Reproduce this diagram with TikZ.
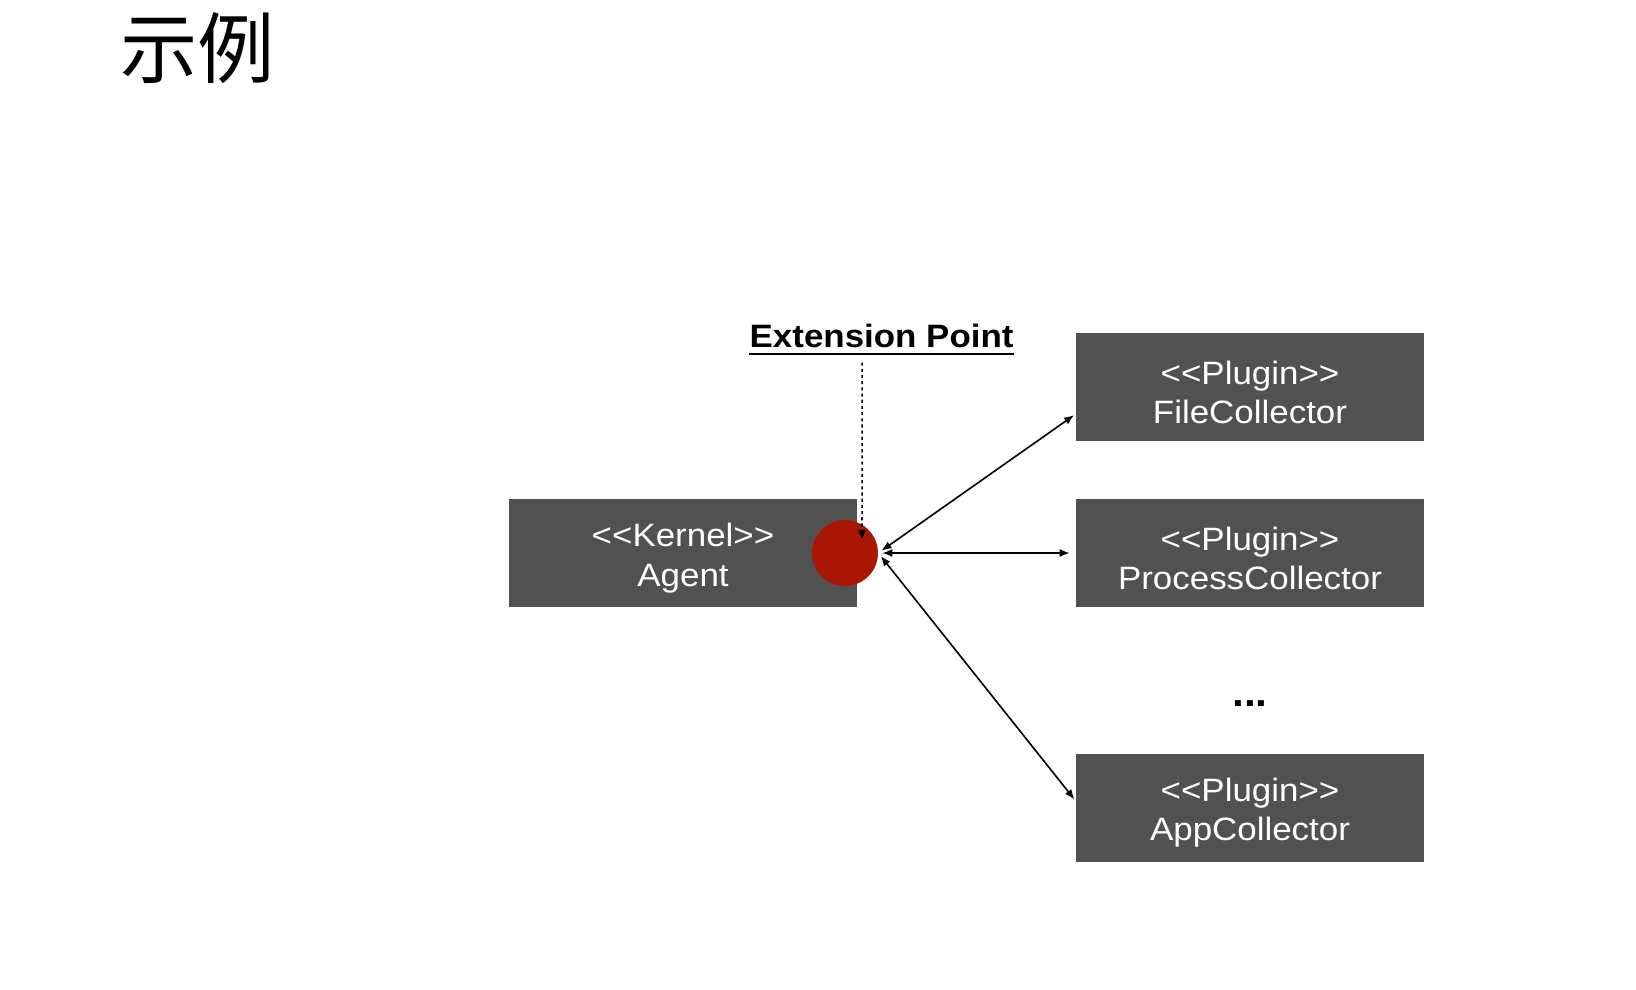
\documentclass[tikz,border=0pt]{standalone}
\usepackage{fontspec}
\newfontfamily\labelfont{Liberation Sans}[FakeStretch=1.08]
\newfontfamily\cjkfont{Noto Sans CJK SC}
\usepackage{xcolor}
\usetikzlibrary{positioning}
\usetikzlibrary{arrows.meta}

\begin{document}
\begin{tikzpicture}[
	box/.style={rectangle, fill=BOXGRAY, text=white, minimum width=8.7cm, minimum height=2.7cm, inner sep=0pt, align=center, font=\labelfont\fontsize{23}{28}\selectfont},
	link/.style={{Latex[length=2.5mm,width=2mm]}-{Latex[length=2.5mm,width=2mm]}, line width=1.15pt, shorten <=0.1cm},
	pointer/.style={-{Latex[length=2.5mm,width=2mm]}, line width=1.1pt, dash pattern=on 2.2pt off 2.2pt}
]
			\useasboundingbox (0,0) rectangle (40.9,-24.75);
			\definecolor{BOXGRAY}{RGB}{81, 81, 81}
			\definecolor{EXTRED}{RGB}{169, 22, 4}
			\node[anchor=base west, inner sep=0pt, font=\cjkfont\fontsize{55}{60}\selectfont] (title) at ( 3.0000000, -1.9500000) {示例};
			\node[anchor=base, inner sep=0pt, font=\labelfont\bfseries\fontsize{23}{28}\selectfont] (extlabel) at (22.0400000, -8.7000000) {Extension Point};
			\node[box] (agent) at (17.0750000, -13.8250000) {\rule{0pt}{24pt}<<Kernel>>\\Agent};
			\node[box] (file) at (31.2500000, -9.6875000) {\rule{0pt}{24pt}<<Plugin>>\\FileCollector};
			\node[box] (process) at (31.2500000, -13.8250000) {\rule{0pt}{24pt}<<Plugin>>\\ProcessCollector};
			\node[anchor=base, inner sep=0pt, font=\labelfont\bfseries\fontsize{28}{30}\selectfont] (dots) at (31.2500000, -17.6500000) {...};
			\node[box] (app) at (31.2500000, -20.1875000) {\rule{0pt}{24pt}<<Plugin>>\\AppCollector};
			\node[circle, fill=EXTRED, minimum size=1.65cm, inner sep=0pt] (ext) at (21.1250000, -13.8250000) {};
			\draw[line width=1.2pt] ([yshift=-4.4pt]extlabel.base west) to ([yshift=-4.4pt]extlabel.base east);
			\draw[pointer] ([xshift=-0.4875cm, yshift=-0.35cm]extlabel.south) to ([xshift=0.425cm, yshift=0.325cm]ext.center);
			\draw[link, shorten >=0.05cm] (ext.east) to ([yshift=-0.6625cm]file.west);
			\draw[link, shorten >=0.15cm] (ext.east) to (process.west);
			\draw[link, shorten >=0.05cm] (ext.east) to ([yshift=0.1625cm]app.west);
		\end{tikzpicture}
\end{document}
